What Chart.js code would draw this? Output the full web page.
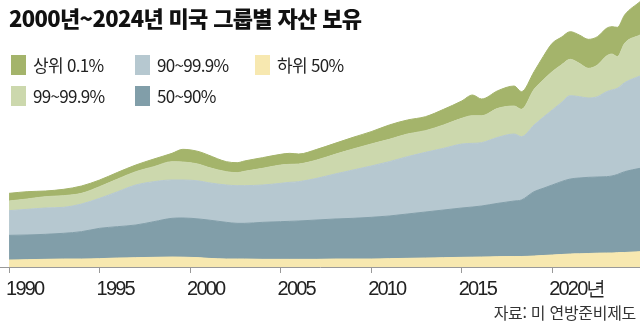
<!DOCTYPE html>
<html lang="ko">
<head>
<meta charset="utf-8">
<script src="https://cdn.jsdelivr.net/npm/chart.js@4/dist/chart.umd.min.js"></script>
<style>
  html, body { margin: 0; padding: 0; background: #fff; }
  #wrap { position: relative; width: 640px; height: 323px; overflow: hidden; }
  #wrap canvas { position: absolute; left: 0; top: 0; }
  .title {
    position: absolute; left: 9px; top: 1px; margin: 0;
    font: 900 22px "Noto Sans CJK KR", sans-serif; letter-spacing: -0.65px;
    color: #111; white-space: nowrap;
  }
  .legend { position: absolute; left: 11px; top: 52px; width: 360px; }
  .legend .item {
    position: absolute; display: flex; align-items: center; white-space: nowrap;
    font: 17px "Noto Sans CJK KR", sans-serif; letter-spacing: -0.7px; color: #222;
  }
  .legend .box { width: 15px; height: 20px; margin-right: 7px; }
  .source {
    position: absolute; right: 4px; top: 300px;
    font: 16px "Noto Sans CJK KR", sans-serif; letter-spacing: -0.3px; color: #333;
  }
</style>
</head>
<body>
<div id="wrap">
  <canvas id="wealthChart"></canvas>
  <h1 class="title">2000년~2024년 미국 그룹별 자산 보유</h1>
  <div class="legend" id="legend"></div>
  <div class="source">자료: 미 연방준비제도</div>
</div>
<script>
// ===== Data (trillions) =====
const years = [
  1990, 1991, 1992, 1993, 1994, 1995, 1996, 1997, 1998, 1999, 1999.6,
  2000.5, 2001, 2002, 2002.6, 2003, 2004, 2005, 2005.5, 2006, 2007, 2008,
  2009, 2010, 2011, 2012, 2013, 2014, 2015, 2015.6, 2016.1, 2017, 2017.9,
  2018.3, 2019, 2019.5, 2020, 2020.5, 2021, 2021.5, 2022, 2022.5, 2023,
  2023.3, 2023.6, 2024, 2024.85
];
const bottom50 = [
  4.2, 4.4, 4.6, 4.8, 4.8, 5.0, 5.4, 5.6, 5.8, 6.0, 5.9,
  5.6, 5.2, 4.8, 4.8, 4.8, 4.6, 4.6, 4.6, 4.6, 4.6, 4.8,
  4.8, 4.8, 5.0, 5.2, 5.4, 5.6, 5.8, 5.9, 6.0, 6.2, 6.3,
  6.3, 6.6, 6.9, 7.2, 7.5, 7.8, 7.9, 8.1, 8.3, 8.4,
  8.4, 8.6, 8.7, 9.2
];
const p50to90 = [
  14.8, 14.8, 15.0, 15.4, 16.4, 18.2, 18.8, 19.6, 21.4, 23.2, 23.5,
  23.2, 23.0, 22.0, 21.4, 21.4, 22.2, 22.6, 22.8, 23.0, 23.6, 24.0,
  24.4, 25.0, 25.6, 26.6, 27.6, 28.6, 29.6, 30.1, 30.6, 32.0, 33.3,
  33.9, 38.6, 40.3, 42.0, 43.7, 45.0, 45.5, 45.7, 45.7, 45.8,
  46.2, 46.9, 48.5, 50.0
];
const p90to99 = [
  14.8, 15.4, 15.8, 15.6, 16.6, 18.0, 21.0, 24.0, 24.0, 23.0, 22.8,
  22.8, 22.4, 22.4, 22.6, 22.6, 22.4, 23.0, 23.4, 23.6, 25.0, 27.0,
  29.0, 30.8, 32.6, 34.4, 35.8, 37.0, 38.4, 38.2, 38.0, 39.6, 40.2,
  38.0, 40.0, 42.6, 45.0, 47.4, 50.0, 48.8, 47.6, 48.2, 51.0,
  51.6, 51.7, 53.4, 55.4
];
const p99to999 = [
  5.8, 6.2, 6.8, 7.0, 6.4, 7.0, 7.6, 8.0, 9.0, 11.0, 10.8,
  10.0, 9.2, 8.0, 7.8, 8.6, 10.0, 11.0, 10.8, 10.6, 11.0, 11.8,
  12.6, 13.2, 13.4, 13.6, 13.0, 14.0, 15.4, 16.6, 16.2, 17.4, 16.8,
  16.4, 21.4, 22.4, 23.0, 22.6, 21.8, 20.0, 17.8, 19.0, 21.4,
  21.6, 19.0, 23.6, 24.6
];
const top01 = [
  4.6, 4.4, 3.4, 3.8, 4.4, 4.0, 4.0, 4.0, 4.6, 5.0, 7.6,
  7.6, 7.4, 6.0, 6.0, 6.2, 6.4, 6.4, 6.6, 6.0, 6.4, 6.6,
  7.0, 7.4, 8.6, 8.4, 8.4, 9.4, 10.4, 12.4, 10.0, 10.6, 12.0,
  10.6, 10.6, 14.0, 17.0, 16.6, 16.6, 17.0, 17.4, 17.0, 16.6,
  16.4, 17.6, 17.0, 20.0
];
const tickYears = [1990, 1995, 2000, 2005, 2010, 2015, 2020];
const tickLabels = ["1990", "1995", "2000", "2005", "2010", "2015", "2020년"];

// stacked bottom -> top
const series = [
  { label: "하위 50%", values: bottom50, color: "#f7e8b0" },
  { label: "50~90%", values: p50to90, color: "#819ea9" },
  { label: "90~99.9%", values: p90to99, color: "#b6c8d0" },
  { label: "99~99.9%", values: p99to999, color: "#ccd8ad" },
  { label: "상위 0.1%", values: top01, color: "#a4b46b" }
];

// ===== Legend (two rows, column aligned) =====
const legendOrder = ["상위 0.1%", "90~99.9%", "하위 50%", "99~99.9%", "50~90%"];
const legendSpots = [[0, 0], [124, 0], [244, 0], [0, 31], [124, 31]];
const legendEl = document.getElementById("legend");
legendOrder.forEach((name, i) => {
  const s = series.find(d => d.label === name);
  const item = document.createElement("div");
  item.className = "item";
  item.style.left = legendSpots[i][0] + "px";
  item.style.top = legendSpots[i][1] + "px";
  item.innerHTML = `<span class="box" style="background:${s.color}"></span><span>${name}</span>`;
  legendEl.appendChild(item);
});

// tick labels in the picture are a condensed face; squeeze the letters
const narrowText = {
  id: "narrowText",
  beforeDraw: chart => { chart.ctx.letterSpacing = "-1.8px"; }
};

// ===== Chart =====
const ctx = document.getElementById("wealthChart").getContext("2d");
new Chart(ctx, {
  type: "line",
  data: {
    datasets: series.map((s, i) => ({
      label: s.label,
      data: years.map((x, j) => ({ x: x, y: s.values[j] })),
      backgroundColor: s.color,
      borderColor: s.color,
      borderWidth: 1,
      pointRadius: 0,
      cubicInterpolationMode: "monotone",
      fill: i === 0 ? "origin" : "-1"
    }))
  },
  options: {
    responsive: true,
    maintainAspectRatio: false,
    animation: false,
    layout: { padding: 0 },
    scales: {
      x: {
        type: "linear",
        min: 1989.5,
        max: 2024.85,
        afterBuildTicks: axis => { axis.ticks = tickYears.map(v => ({ value: v })); },
        afterFit: axis => { axis.height = 56; },
        ticks: {
          autoSkip: false,
          maxRotation: 0,
          align: "start",
          labelOffset: -3,
          padding: 4,
          color: "#222",
          font: { family: "'Liberation Sans', sans-serif", size: 20 },
          callback: (value) => {
            const k = tickYears.indexOf(value);
            return k >= 0 ? tickLabels[k] : "";
          }
        },
        grid: { drawOnChartArea: false, drawTicks: true, tickLength: 6, color: "#999" },
        border: { display: true, color: "#999", width: 1 }
      },
      y: {
        display: false,
        stacked: true,
        min: 0,
        max: 160.2
      }
    },
    plugins: {
      legend: { display: false },
      tooltip: { enabled: false }
    }
  },
  plugins: [narrowText]
});
</script>
</body>
</html>
